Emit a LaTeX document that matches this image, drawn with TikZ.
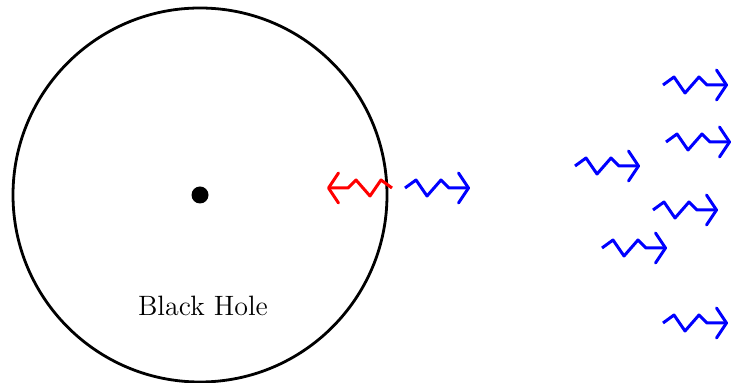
\documentclass[tikz,border=0pt]{standalone}
\usetikzlibrary{arrows.meta}

\begin{document}
\begin{tikzpicture}[
        x=0.5pt, y=-0.5pt,
        hole/.style={draw, circle, line width=1.4pt, minimum size=187pt, inner sep=0pt},
        sing/.style={fill, circle, minimum size=8.5pt, inner sep=0pt},
        wave/.style={line width=1.5pt, line join=round, -{Straight Barb[length=5pt, width=15pt, round]}},
        photon/.pic={
            \draw[wave] (0,0) -- ++(11,-8) -- ++(11,16) -- ++(14,-16) -- ++(8,8) -- ++(21,0);
        }
    ]
        \useasboundingbox (0,0) rectangle (731,383);

        \node[hole] (bh) at (200, 195) {};
        \node[sing] (centre) at (200, 195) {};
        \node[font=\fontsize{14}{17}\selectfont] (label) at (203, 306) {Black Hole};

        % infalling partner at the horizon
        \pic[red, xscale=-1] (infall) at (392, 188) {photon};

        % outgoing radiation
        \pic[blue] (out) at (405, 188) {photon};
        \pic[blue] (r1) at (663, 85) {photon};
        \pic[blue] (r2) at (666, 142) {photon};
        \pic[blue] (r3) at (575, 166) {photon};
        \pic[blue] (r4) at (653, 210) {photon};
        \pic[blue] (r5) at (602, 248) {photon};
        \pic[blue] (r6) at (663, 323) {photon};
    \end{tikzpicture}
\end{document}
